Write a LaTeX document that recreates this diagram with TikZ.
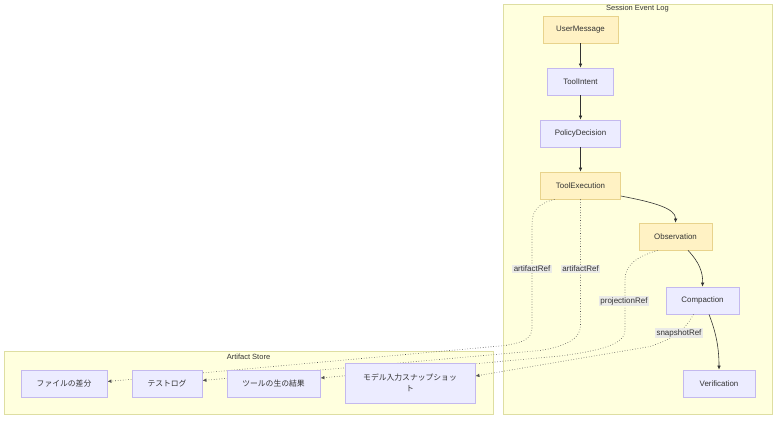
\documentclass[tikz,border=0pt]{standalone}
\usepackage{fontspec}
\setmainfont{Liberation Sans}
\newfontfamily\jp{Noto Sans CJK JP}
\usetikzlibrary{arrows.meta}
\definecolor{ylwF}{HTML}{FFF2C4}
\definecolor{ylwS}{HTML}{E8D38C}
\definecolor{lavF}{HTML}{ECECFF}
\definecolor{lavS}{HTML}{C4B9EE}
\definecolor{cluF}{HTML}{FFFFDE}
\definecolor{cluS}{HTML}{DEDEA2}
\definecolor{txt}{HTML}{333333}
\definecolor{lblF}{HTML}{E8E8E8}
\begin{document}
\begin{tikzpicture}[x=1pt,y=-1pt,
  every node/.style={font=\fontsize{7.9}{9.5}\selectfont, text=txt},
  evt/.style={draw=lavS, fill=lavF, line width=0.8pt, inner sep=0pt, minimum height=27pt},
  yev/.style={evt, draw=ylwS, fill=ylwF},
  jpn/.style={evt, font=\jp\fontsize{7.8}{11}\selectfont},
  cluster/.style={draw=cluS, fill=cluF, line width=0.8pt, inner sep=0pt},
  ctitle/.style={inner sep=0pt, font=\fontsize{7.5}{9}\selectfont},
  flow/.style={draw=txt, line width=0.6pt, -{Latex[length=4pt,width=3.6pt]}},
  ref/.style={draw=txt!85, line width=0.6pt, dotted, -{Latex[length=4pt,width=3.6pt]}},
  elabel/.style={fill=lblF, fill opacity=0.9, text opacity=1, inner sep=1.3pt, font=\fontsize{8}{9.5}\selectfont}
]
\useasboundingbox (0,0) rectangle (784,424);
\fill[white] (0,0) rectangle (784,424);

% clusters
\node[cluster, minimum width=269pt, minimum height=410pt] (sel) at (637.5,209) {};
\node[ctitle] (seltitle) at (637.5,9) {Session Event Log};
\node[cluster, minimum width=489pt, minimum height=63pt] (as) at (248.5,382.5) {};
\node[ctitle] (astitle) at (248.5,357) {Artifact Store};

% session nodes
\node[yev, minimum width=75pt] (um) at (580.5,29.5) {UserMessage};
\node[evt, minimum width=66pt] (ti) at (580.5,81.5) {ToolIntent};
\node[evt, minimum width=80pt] (pd) at (580.5,133.5) {PolicyDecision};
\node[yev, minimum width=80pt] (te) at (580.5,185.5) {ToolExecution};
\node[yev, minimum width=73pt] (obs) at (675.5,236.5) {Observation};
\node[evt, minimum width=73pt] (cmp) at (702.5,300.5) {Compaction};
\node[evt, minimum width=72pt] (ver) at (719,383.5) {Verification};

% artifact nodes (positions)
\node[jpn, minimum width=86pt] (fd) at (64,383.5) {ファイルの差分};
\node[jpn, minimum width=70pt] (tl) at (167,383.5) {テストログ};
\node[jpn, minimum width=93pt] (raw) at (273.5,383.5) {ツールの生の結果};
\node[jpn, minimum width=130pt, minimum height=40pt, align=center] (snap) at (410,383) {モデル入力スナップショッ\\ト};

% dotted references
\draw[ref] ([xshift=-26pt]te.south) .. controls (536,204) and (532,212) .. (532,226) -- (532,328)
   .. controls (532,340) and (520,343) .. (505,345.5) -- ([yshift=2pt]fd.east);
\draw[ref] (te.south) -- (580.5,326) .. controls (580.5,340) and (562,347) .. (540,350.5) -- ([yshift=3pt]tl.east);
\draw[ref] ([xshift=-18pt]obs.south) .. controls (636,257) and (625,265) .. (625,280) -- (625,330)
   .. controls (625,345) and (598,351) .. (560,356) -- ([yshift=5.5pt]raw.east);
\draw[ref] ([xshift=-9pt]cmp.south) .. controls (686,328) and (676,338) .. (650,346.5) -- ([yshift=7pt]snap.east);

% artifact nodes again, on top of the dotted lines
\node[jpn, minimum width=86pt] at (fd) {ファイルの差分};
\node[jpn, minimum width=70pt] at (tl) {テストログ};
\node[jpn, minimum width=93pt] at (raw) {ツールの生の結果};
\node[jpn, minimum width=130pt, minimum height=40pt, align=center] at (snap) {モデル入力スナップショッ\\ト};

% edge labels
\node[elabel] (l1) at (532,269) {artifactRef};
\node[elabel] (l2) at (580.5,269) {artifactRef};
\node[elabel] (l3) at (624,301) {projectionRef};
\node[elabel] (l4) at (679,333) {snapshotRef};

% solid flow
\draw[flow] (um.south) -- (um.south |- ti.north);
\draw[flow] (ti.south) -- (ti.south |- pd.north);
\draw[flow] (pd.south) -- (pd.south |- te.north);
\draw[flow] ([yshift=-10.5pt]te.east) .. controls (652,202) and (676,208) .. (obs.north);
\draw[flow] ([xshift=12.5pt]obs.south) .. controls (699,262) and (703,272) .. (cmp.north);
\draw[flow] ([xshift=6.5pt]cmp.south) .. controls (715,330) and (719,345) .. (ver.north);
\end{tikzpicture}
\end{document}
